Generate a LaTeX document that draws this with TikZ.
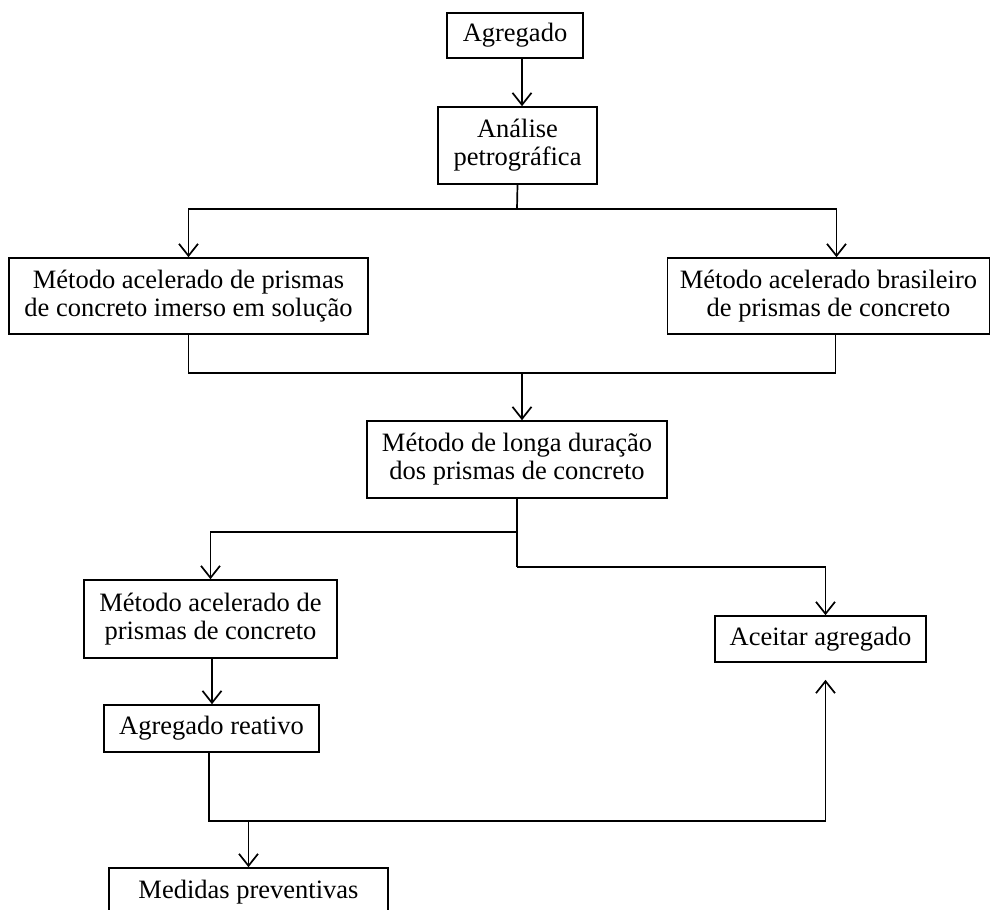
\documentclass[tikz,border=0pt]{standalone}
\usepackage{fontspec}
\setmainfont{Liberation Serif}
\usetikzlibrary{arrows.meta}
\begin{document}
\begin{tikzpicture}[x=1pt,y=-1pt,
  box/.style={draw, line width=1.6pt, inner sep=0pt, align=center,
              font=\fontsize{26.5}{28}\selectfont},
  link/.style={line width=1.7pt},
  arr/.style={link, -{Straight Barb[length=12pt,width=19pt,line width=1.7pt]}}]
\useasboundingbox[fill=white] (0,0) rectangle (991,910);

% boxes
\node[box, minimum width=136pt, minimum height=45pt] (ag) at (515,35.5) {Agregado};
\node[box, minimum width=159pt, minimum height=77pt] (an) at (517.5,145.5) {Análise\\petrográfica};
\node[box, minimum width=359pt, minimum height=76pt] (L) at (188.5,296) {Método acelerado de prismas\\de concreto imerso em solução};
\node[box, minimum width=322pt, minimum height=76pt] (R) at (828.5,296) {Método acelerado brasileiro\\de prismas de concreto};
\node[box, minimum width=300pt, minimum height=77pt] (lg) at (517,459.5) {Método de longa duração\\dos prismas de concreto};
\node[box, minimum width=253pt, minimum height=78pt] (ma) at (210.5,619) {Método acelerado de\\prismas de concreto};
\node[box, minimum width=211pt, minimum height=46pt] (ac) at (820.5,639) {Aceitar agregado};
\node[box, minimum width=215pt, minimum height=47pt] (ar) at (211.5,728.5) {Agregado reativo};
\node[box, minimum width=279pt, minimum height=48pt] (md) at (248.5,892) {Medidas preventivas};

% junction points
\coordinate (j1) at (517,209);
\coordinate (j2) at (522,373);
\coordinate (j3) at (517,532);
\coordinate (j4) at (517,567);
\coordinate (j5) at (248.5,821);
\coordinate (j6) at (825.5,821);
\coordinate (up) at ([xshift=5pt,yshift=-17pt]ac.south);

% connectors
\draw[arr] ([xshift=7pt]ag.south) -- ([xshift=7pt]ag.south |- an.north);
\draw[link] (an.south) -- (j1);
\draw[arr] (j1) -| (L.north);
\draw[arr] (j1) -| ([xshift=8pt]R.north);
\draw[link] (L.south) |- (j2);
\draw[link] ([xshift=7pt]R.south) |- (j2);
\draw[arr] (j2) -- (j2 |- lg.north);
\draw[link] (lg.south) -- (j4);
\draw[arr] (j3) -| (ma.north);
\draw[arr] (j4) -| ([xshift=5pt]ac.north);
\draw[arr] ([xshift=1.5pt]ma.south) -- ([xshift=1.5pt]ma.south |- ar.north);
\draw[link] ([xshift=-2.5pt]ar.south) |- (j6);
\draw[arr] (j6) -- (up);
\draw[arr] (j5) -- (md.north);
\end{tikzpicture}
\end{document}
